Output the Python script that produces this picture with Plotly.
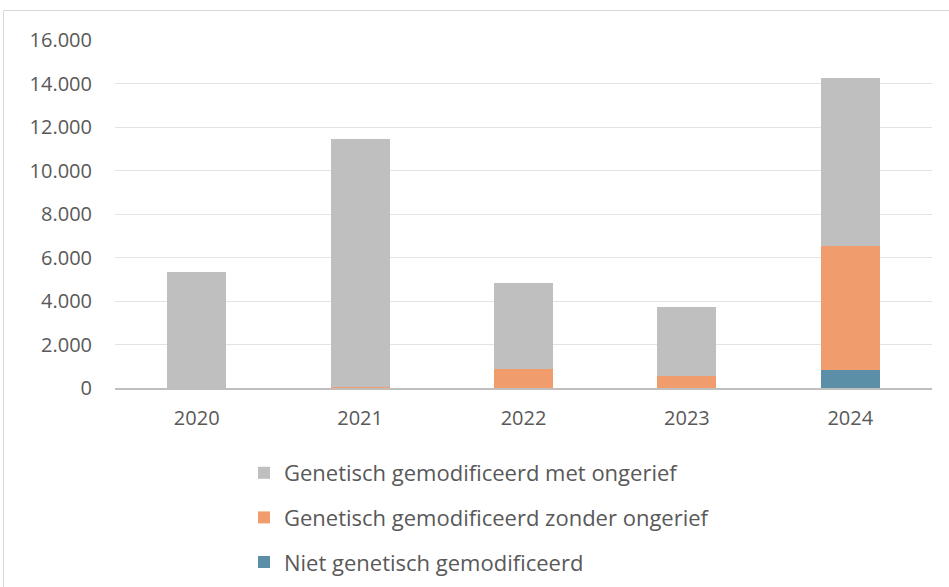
import plotly.graph_objects as go

years = ["2020", "2021", "2022", "2023", "2024"]
niet_gm = [0, 0, 0, 0, 830]
gm_zonder = [0, 50, 870, 550, 5700]
gm_met = [5330, 11400, 3960, 3170, 7720]

series = [
    ("Niet genetisch gemodificeerd", niet_gm, "#5b8fa8", 3),
    ("Genetisch gemodificeerd zonder ongerief", gm_zonder, "#f19c6c", 2),
    ("Genetisch gemodificeerd met ongerief", gm_met, "#bfbfbf", 1),
]

W, H = 949, 587
L, R, T, B = 115, 17, 40, 199

fig = go.Figure()
for i, (name, vals, col, rank) in enumerate(series):
    fig.add_trace(go.Bar(
        x=years, y=vals, name=name, marker=dict(color=col, line=dict(width=0)),
        legendgroup=f"g{i}", legendrank=rank,
    ))

font_family = "Open Sans, Liberation Sans, sans-serif"
fig.update_layout(
    width=W, height=H,
    margin=dict(l=L, r=R, t=T, b=B, autoexpand=False),
    barmode="stack", bargap=0.64,
    paper_bgcolor="white", plot_bgcolor="white",
    separators=",.",
    font=dict(family=font_family, color="#595959", size=20),
    xaxis=dict(showgrid=False, showline=True, linecolor="#bfbfbf", linewidth=2,
               ticks="", tickfont=dict(size=20, color="#595959"), ticklabelstandoff=11,
               fixedrange=True),
    yaxis=dict(range=[0, 16000], dtick=2000, tickformat=",d", showgrid=True,
               gridcolor="#e3e3e3", gridwidth=1, zeroline=False, showline=False,
               ticks="", tickfont=dict(size=20, color="#595959"), ticklabelstandoff=22,
               fixedrange=True),
    legend=dict(orientation="v", xref="container", yref="container",
                x=244 / W, y=1 - 452 / H, xanchor="left", yanchor="top",
                traceorder="grouped", tracegroupgap=13,
                font=dict(size=22, color="#595959", family=font_family),
                itemwidth=30, bgcolor="rgba(0,0,0,0)"),
    showlegend=True,
)

pw = W - L - R
ph = H - T - B
fig.add_shape(type="rect", xref="paper", yref="paper",
              x0=(3.5 - L) / pw, x1=(990 - L) / pw,
              y0=(H - B - 640) / ph, y1=(H - B - 10.5) / ph,
              line=dict(color="#d9d9d9", width=1), fillcolor="rgba(0,0,0,0)", layer="below")

fig.write_html("out.html", config={"displayModeBar": False},
               post_script="document.body.style.margin='0';document.body.style.overflow='hidden';")
